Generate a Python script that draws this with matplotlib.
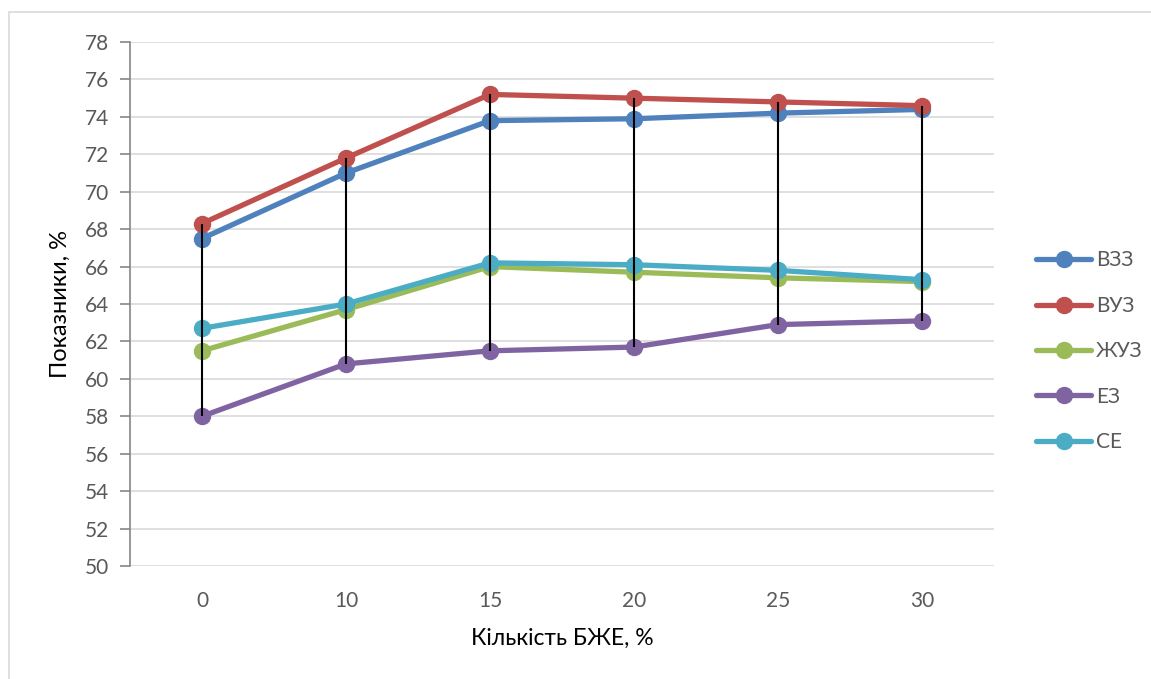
import matplotlib.pyplot as plt
import numpy as np
from matplotlib.patches import Rectangle

categories = ['0', '10', '15', '20', '25', '30']

vzz = [67.5, 71.0, 73.8, 73.9, 74.2, 74.4]
vuz = [68.3, 71.8, 75.2, 75.0, 74.8, 74.6]
zhuz = [61.5, 63.7, 66.0, 65.7, 65.4, 65.2]
ez = [58.0, 60.8, 61.5, 61.7, 62.9, 63.1]
se = [62.7, 64.0, 66.2, 66.1, 65.8, 65.3]

series_names = ['ВЗЗ', 'ВУЗ', 'ЖУЗ', 'ЕЗ', 'СЕ']
colors = ['#4F81BD', '#C0504D', '#9BBB59', '#8064A2', '#4BACC6']

plt.rcParams['font.family'] = ['Lato', 'DejaVu Sans']
text_color = '#595959'

fig = plt.figure(figsize=(11.51, 6.79), dpi=100)
ax = fig.add_axes([0.1129, 0.1664, 0.7507, 0.7717])

# outer chart frame
fig.patches.append(Rectangle((9 / 1151, -0.01), 1.2, 1 - 12 / 679 + 0.01,
                             transform=fig.transFigure, fill=False,
                             edgecolor='#D9D9D9', linewidth=1.2))

x = np.arange(len(categories))
data = [vzz, vuz, zhuz, ez, se]

for vals, name, c in zip(data, series_names, colors):
    ax.plot(x, vals, color=c, linewidth=3.8, marker='o', markersize=11.5,
            label=name, zorder=3, solid_capstyle='round')

# high-low lines
arr = np.array(data)
ax.vlines(x, arr.min(axis=0), arr.max(axis=0), color='black', linewidth=1.5, zorder=4)

ax.set_xlim(-0.5, len(categories) - 0.5)
ax.set_ylim(50, 78)
ax.set_yticks(np.arange(50, 79, 2))
ax.set_xticks(x)
ax.set_xticklabels(categories)

ax.yaxis.grid(True, color='#D9D9D9', linewidth=1.2)
ax.set_axisbelow(True)
for s in ['top', 'right', 'bottom']:
    ax.spines[s].set_visible(False)
ax.spines['left'].set_color('#868686')
ax.spines['left'].set_linewidth(1.2)

ax.tick_params(axis='y', colors='#868686', labelcolor=text_color, labelsize=15,
               length=7, width=1.2, pad=8)
ax.tick_params(axis='x', length=0, labelcolor=text_color, labelsize=15, pad=18)

ax.set_xlabel('Кількість БЖЕ, %', fontsize=16.5, color='black', labelpad=12)
ax.set_ylabel('Показники, %', fontsize=17, color='black', labelpad=10)

fig.legend(loc='upper left', bbox_to_anchor=(1026 / 1151, 1 - 240 / 679),
           frameon=False, fontsize=15, labelspacing=1.22, handlelength=2.6,
           handletextpad=0.25, borderpad=0, labelcolor=text_color)

fig.savefig('out.png', dpi=100)
